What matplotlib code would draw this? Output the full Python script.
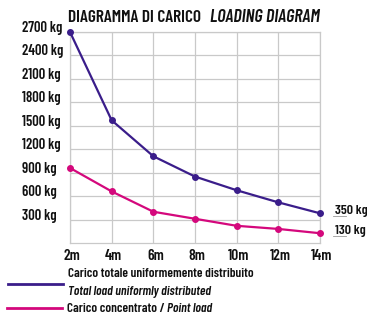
import matplotlib
matplotlib.use("Agg")
import matplotlib.pyplot as plt
from matplotlib.transforms import blended_transform_factory, offset_copy

FONT = ["Barlow Condensed", "DejaVu Sans"]
plt.rcParams["font.family"] = FONT

spans = ["2m", "4m", "6m", "8m", "10m", "12m", "14m"]
uniform_load = [2700, 1570, 1110, 850, 675, 520, 380]
point_load = [960, 660, 400, 310, 220, 180, 125]
y_ticks = [300, 600, 900, 1200, 1500, 1800, 2100, 2400, 2700]
y_tick_labels = [f"{v} kg" for v in y_ticks]
end_labels = ["350 kg", "130 kg"]

BLUE = "#3a1d8a"
PINK = "#d4087c"
GRID = "#c9c9c9"
TXT = "#111111"

W, H = 367, 320
fig = plt.figure(figsize=(W / 100, H / 100), dpi=100)
ax = fig.add_axes([70 / W, 1 - 243 / H, 250 / W, 211 / H])

x = list(range(len(spans)))
ax.plot(x, uniform_load, color=BLUE, lw=1.6, marker="o", ms=4, clip_on=False, zorder=3)
ax.plot(x, point_load, color=PINK, lw=1.6, marker="o", ms=4, clip_on=False, zorder=3)

ax.set_xlim(0, len(spans) - 1)
ax.set_ylim(0, 2700)
ax.set_xticks(x)
ax.set_yticks(y_ticks)
ax.grid(True, color=GRID, lw=0.9)
ax.set_axisbelow(True)
for s in ax.spines.values():
    s.set_color(GRID)
    s.set_linewidth(0.9)
ax.tick_params(length=0, labelleft=False, labelbottom=False)

tick_p = dict(fontsize=10.5, fontweight=600, color=TXT)
leg_p = dict(fontsize=9.5, fontweight=600, color=TXT)

# y tick labels, left aligned
ytr = blended_transform_factory(fig.transFigure, ax.transData)
for v, lab in zip(y_ticks, y_tick_labels):
    ax.text(22 / W, v, lab, transform=offset_copy(ytr, fig=fig, y=4, units="dots"),
            ha="left", va="center", **tick_p)
# x tick labels
xtr = blended_transform_factory(ax.transData, fig.transFigure)
for xi, lab in zip(x, spans):
    ax.text(xi, 1 - 256 / H, lab, transform=offset_copy(xtr, fig=fig, x=2, units="dots"),
            ha="center", va="center", fontsize=11, fontweight=600, color=TXT)

# end labels with underline
for series, lab in [(uniform_load, end_labels[0]), (point_load, end_labels[1])]:
    yv = series[-1]
    ax.text(335 / W, yv, lab, transform=offset_copy(ytr, fig=fig, y=2.5, units="dots"),
            ha="left", va="center", fontsize=10, fontweight=600, color=TXT)
    ax.plot([333 / W, 346 / W], [yv, yv], transform=offset_copy(ytr, fig=fig, y=-3, units="dots"),
            color="#9a9a9a", lw=0.6, clip_on=False)

# title
fig.text(68 / W, 1 - 17 / H, "DIAGRAMMA DI CARICO", fontsize=12.5, fontweight=600,
         color=TXT, ha="left", va="center")
fig.text(210 / W, 1 - 17 / H, "LOADING DIAGRAM", fontsize=13, fontweight=600,
         style="italic", color=TXT, ha="left", va="center")

# legend
fig.add_artist(plt.Line2D([8 / W, 63 / W], [1 - 284 / H] * 2, color=BLUE, lw=2))
fig.add_artist(plt.Line2D([7 / W, 62 / W], [1 - 308 / H] * 2, color=PINK, lw=2))
fig.text(68 / W, 1 - 274 / H, "Carico totale uniformemente distribuito", ha="left", va="center", **leg_p)
fig.text(68 / W, 1 - 292 / H, "Total load uniformly distributed", ha="left", va="center",
         style="italic", **leg_p)
t1 = fig.text(67 / W, 1 - 309 / H, "Carico concentrato / ", ha="left", va="center", **leg_p)
fig.canvas.draw()
bb = t1.get_window_extent()
fig.text(bb.x1 / W, 1 - 309 / H, "Point load", ha="left", va="center", style="italic", **leg_p)

fig.savefig("out.png", dpi=100)
